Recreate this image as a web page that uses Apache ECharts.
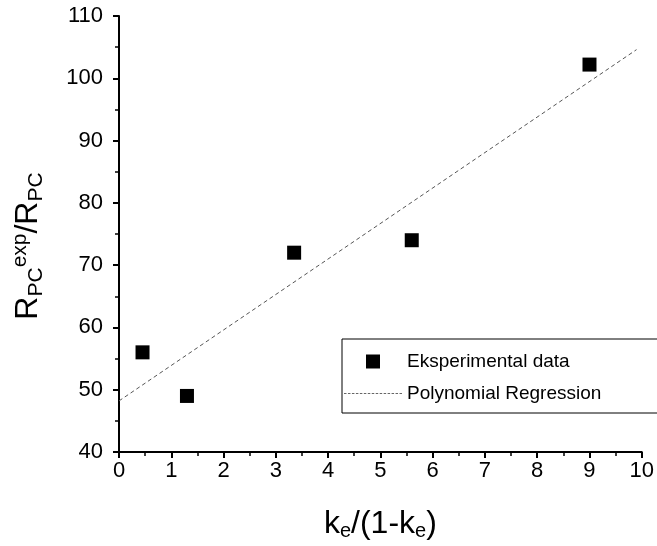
<!DOCTYPE html>
<html>
<head>
<meta charset="utf-8">
<script src="https://cdn.jsdelivr.net/npm/echarts@6/dist/echarts.min.js"></script>
<style>
  html, body { margin: 0; padding: 0; background: #fff; }
  #chart { width: 657px; height: 546px; }
</style>
</head>
<body>
<div id="chart"></div>
<script>
// measured points
var expX = [0.45, 1.3, 3.35, 5.6, 9.0];
var expY = [56, 49, 72, 74, 102.2];
// regression line ends
var fitX = [0, 9.9];
var fitY = [48.2, 104.6];

var xTicks = [0, 10, 1];   // min, max, step
var yTicks = [40, 110, 10];

var chart = echarts.init(document.getElementById("chart"));

var font = "Liberation Sans, Arial, sans-serif";

// dotted line for the legend entry of the fit
var dashIcon = "path://";
for (var d = 0; d < 58; d += 4) {
  dashIcon += "M" + d + ",0h2.5v1h-2.5Z";
}

var option = {
  animation: false,
  grid: { left: 119, right: 14, top: 16, bottom: 94 },
  legend: {
    orient: "vertical",
    left: 342,
    top: 339,
    itemWidth: 58,
    itemHeight: 14,
    itemGap: 13,
    padding: [13, 60, 10, 2],
    borderColor: "#000",
    borderWidth: 1,
    symbolKeepAspect: true,
    textStyle: { fontFamily: font, fontSize: 19, color: "#000" },
    data: [
      { name: "Eksperimental data", icon: "path://M0,0L10,0L10,10L0,10Z" },
      { name: "Polynomial Regression", icon: dashIcon }
    ]
  },
  xAxis: {
    type: "value",
    min: xTicks[0], max: xTicks[1], interval: xTicks[2],
    axisLine: { lineStyle: { color: "#000", width: 2 } },
    axisTick: { length: 6, lineStyle: { color: "#000", width: 2 } },
    minorTick: { show: true, splitNumber: 2, length: 4, lineStyle: { color: "#000", width: 1.5 } },
    splitLine: { show: false },
    axisLabel: { fontFamily: font, fontSize: 22, color: "#000", margin: 8 },
    name: "{t|k}{s|e}{t|/(1-k}{s|e}{t|)}",
    nameLocation: "middle",
    nameGap: 53,
    nameTextStyle: {
      rich: {
        t: { fontFamily: font, fontSize: 32, color: "#000", lineHeight: 38 },
        s: { fontFamily: font, fontSize: 20, color: "#000", lineHeight: 38, padding: [14, 0, 0, 0] }
      }
    }
  },
  yAxis: {
    type: "value",
    min: yTicks[0], max: yTicks[1], interval: yTicks[2],
    axisLine: { show: true, lineStyle: { color: "#000", width: 2 } },
    axisTick: { show: true, length: 6, lineStyle: { color: "#000", width: 2 } },
    minorTick: { show: true, splitNumber: 2, length: 4, lineStyle: { color: "#000", width: 1.5 } },
    splitLine: { show: false },
    axisLabel: { fontFamily: font, fontSize: 22, color: "#000", margin: 16 },
    name: "{t|R}{s|PC}{p|exp}{t|/R}{s|PC}",
    nameLocation: "middle",
    nameRotate: 90,
    nameGap: 72,
    nameTextStyle: {
      padding: [0, 24, 0, 0],
      rich: {
        t: { fontFamily: font, fontSize: 32, color: "#000", lineHeight: 38 },
        s: { fontFamily: font, fontSize: 21, color: "#000", lineHeight: 38, padding: [16, 0, 0, 0] },
        p: { fontFamily: font, fontSize: 21, color: "#000", lineHeight: 38, padding: [0, 0, 16, 0] }
      }
    }
  },
  series: [
    {
      name: "Eksperimental data",
      type: "scatter",
      symbol: "rect",
      symbolSize: 14,
      itemStyle: { color: "#000", opacity: 1 },
      data: expX.map(function (x, i) { return [x, expY[i]]; })
    },
    {
      name: "Polynomial Regression",
      type: "line",
      symbol: "none",
      lineStyle: { color: "#555", width: 1, type: [4, 3] },
      itemStyle: { color: "#666" },
      data: fitX.map(function (x, i) { return [x, fitY[i]]; })
    }
  ]
};

chart.setOption(option);
</script>
</body>
</html>
